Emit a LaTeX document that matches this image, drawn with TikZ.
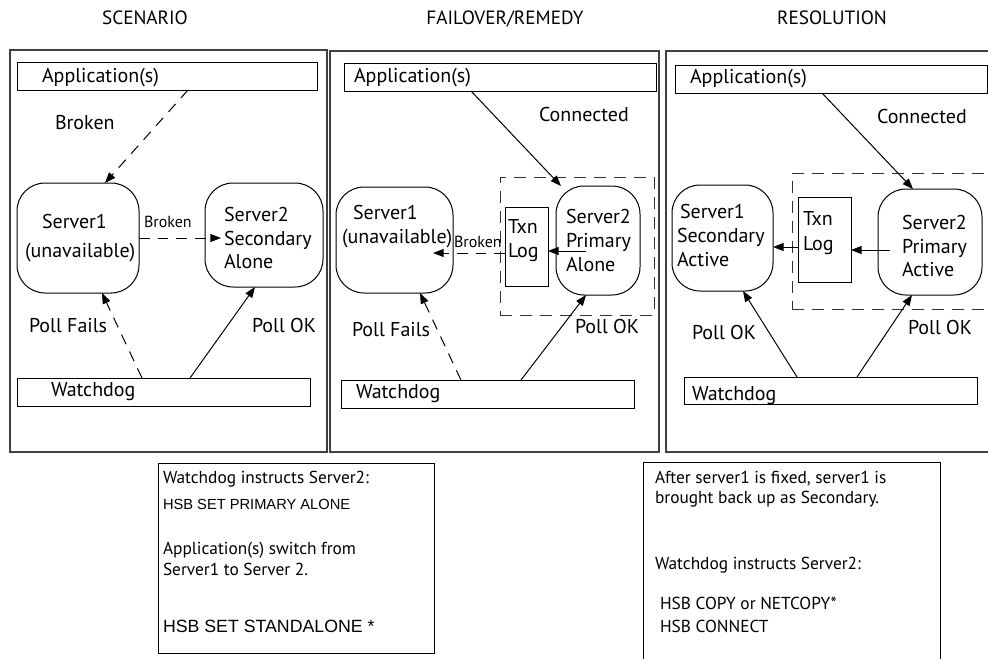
\documentclass[tikz,border=0pt]{standalone}
\usepackage{fontspec}
\setmainfont{PT Sans}
\newfontfamily\arialfont{Liberation Sans}
\usetikzlibrary{arrows.meta,fit}

\newcommand\bodyfont{\fontsize{15}{18}\selectfont}
\newcommand\notefont{\fontsize{13}{16}\selectfont}
\newcommand\smallfont{\fontsize{12}{14}\selectfont}
\newcommand\titlefont{\fontsize{14.4}{17}\selectfont}

\tikzset{
  panel/.style={draw=black!75, line width=0.8pt, inner sep=0pt, outer sep=0pt},
  box/.style={draw, line width=0.75pt, inner sep=0pt, outer sep=0pt},
  srv/.style={box, rounded corners=21pt},
  group/.style={draw=black!80, line width=0.75pt, inner sep=0pt, outer sep=0pt,
                dash pattern=on 9pt off 6pt},
  lbl/.style={anchor=base west, inner sep=0pt, outer sep=0pt, font=\bodyfont},
  note/.style={anchor=base west, inner sep=0pt, outer sep=0pt, font=\notefont},
  small/.style={anchor=base west, inner sep=0pt, outer sep=0pt, font=\smallfont},
  ttl/.style={anchor=base, inner sep=0pt, font=\titlefont},
  conn/.style={-{Triangle[length=8pt,width=6pt]}, line width=0.75pt},
  brk/.style={conn, dash pattern=on 8pt off 6pt},
}

\begin{document}
\begin{tikzpicture}[x=0.75pt, y=-0.75pt]
\useasboundingbox (0,0) rectangle (988,658);

% column headings
\node[ttl] (h1) at (145,24) {SCENARIO};
\node[ttl] (h2) at (505,24) {FAILOVER/REMEDY};
\node[ttl] (h3) at (832,24) {RESOLUTION};

% ---------------- panel 1: scenario ----------------
\node[panel, fit={(10,50)(327,452)}] (pan1) {};
\node[box, fit={(17,62)(317,90)}] (app1) {};
\node[lbl] (app1t) at (42,82) {Application(s)};
\node[lbl] (brk1t) at (55,129) {Broken};
\node[srv, fit={(17,183)(139,293)}] (sa1) {};
\node[lbl] (sa1t1) at (42,228) {Server1};
\node[lbl] (sa1t2) at (25,257) {(unavailable)};
\node[srv, fit={(205,183)(323,287)}] (sb1) {};
\node[lbl] (sb1t1) at (224,221) {Server2};
\node[lbl] (sb1t2) at (224,245) {Secondary};
\node[lbl] (sb1t3) at (224,268) {Alone};
\node[small] (lnk1t) at (144,227) {Broken};
\node[lbl] (pf1) at (29,332) {Poll Fails};
\node[lbl] (pk1) at (252,332) {Poll OK};
\node[box, fit={(17,378)(310,406)}] (wd1) {};
\node[lbl] (wd1t) at (51,396) {Watchdog};

\coordinate (x1a) at (188,0);
\coordinate (x1b) at (105,0);
\coordinate (y1c) at (0,238);
\coordinate (e1c) at (221,238);
\coordinate (x1d) at (142,0);
\coordinate (x1e) at (102,0);
\coordinate (x1f) at (190,0);
\coordinate (x1g) at (255,0);
\draw[brk] (app1.south -| x1a) -- (sa1.north -| x1b);
\draw[brk] (sa1.east |- y1c) -- (e1c);
\draw[brk] (wd1.north -| x1d) -- (sa1.south -| x1e);
\draw[conn] (wd1.north -| x1f) -- (sb1.south -| x1g);

% ---------------- panel 2: failover / remedy ----------------
\node[panel, fit={(330,51)(659,452)}] (pan2) {};
\node[box, fit={(344,63)(656,91)}] (app2) {};
\node[lbl] (app2t) at (354,82) {Application(s)};
\node[lbl] (con2t) at (539,121) {Connected};
\node[group, fit={(500,177)(654,315)}] (grp2) {};
\node[srv, fit={(336,187)(453,293)}] (sa2) {};
\node[lbl] (sa2t1) at (353,219) {Server1};
\node[lbl] (sa2t2) at (342,243) {(unavailable)};
\node[box, fit={(505,207)(548,286)}] (tx2) {};
\node[lbl] (tx2t1) at (508,233) {Txn};
\node[lbl] (tx2t2) at (508,257) {Log};
\node[srv, fit={(556,186)(640,295)}] (sb2) {};
\node[lbl] (sb2t1) at (566,223) {Server2};
\node[lbl] (sb2t2) at (566,247) {Primary};
\node[lbl] (sb2t3) at (566,271) {Alone};
\node[small] (lnk2t) at (454,247) {Broken};
\node[lbl] (pf2) at (352,336) {Poll Fails};
\node[lbl] (pk2) at (575,333) {Poll OK};
\node[box, fit={(341,380)(634,408)}] (wd2) {};
\node[lbl] (wd2t) at (356,398) {Watchdog};

\coordinate (x2a) at (471,0);
\coordinate (x2b) at (561,0);
\coordinate (s2c) at (586,251);
\coordinate (y2d) at (0,253);
\coordinate (e2d) at (433,253);
\coordinate (x2e) at (461,0);
\coordinate (x2f) at (420,0);
\coordinate (x2g) at (521,0);
\coordinate (x2h) at (586,0);
\draw[conn] (app2.south -| x2a) -- (sb2.north -| x2b);
\draw[conn] (s2c) -- (tx2.east |- s2c);
\draw[brk] (tx2.west |- y2d) -- (e2d);
\draw[brk] (wd2.north -| x2e) -- (sa2.south -| x2f);
\draw[conn] (wd2.north -| x2g) -- (sb2.south -| x2h);

% ---------------- panel 3: resolution ----------------
\node[panel, fit={(666,51)(996,452)}] (pan3) {};
\node[box, fit={(675,65)(987,93)}] (app3) {};
\node[lbl] (app3t) at (690,83) {Application(s)};
\node[lbl] (con3t) at (877,123) {Connected};
\node[group, fit={(792,173)(1000,309)}] (grp3) {};
\node[srv, fit={(672,185)(773,291)}] (sa3) {};
\node[lbl] (sa3t1) at (680,218) {Server1};
\node[lbl] (sa3t2) at (677,242) {Secondary};
\node[lbl] (sa3t3) at (677,266) {Active};
\node[box, fit={(798,197)(851,282)}] (tx3) {};
\node[lbl] (tx3t1) at (803,225) {Txn};
\node[lbl] (tx3t2) at (803,250) {Log};
\node[srv, fit={(878,189)(982,295)}] (sb3) {};
\node[lbl] (sb3t1) at (902,229) {Server2};
\node[lbl] (sb3t2) at (902,253) {Primary};
\node[lbl] (sb3t3) at (902,276) {Active};
\node[lbl] (pk3a) at (692,339) {Poll OK};
\node[lbl] (pk3b) at (908,334) {Poll OK};
\node[box, fit={(684,377)(977,404)}] (wd3) {};
\node[lbl] (wd3t) at (692,400) {Watchdog};

\coordinate (x3a) at (822,0);
\coordinate (x3b) at (913,0);
\coordinate (s3c) at (890,250);
\coordinate (y3d) at (0,247);
\coordinate (x3e) at (797,0);
\coordinate (x3f) at (743,0);
\coordinate (x3g) at (857,0);
\coordinate (x3h) at (912,0);
\draw[conn] (app3.south -| x3a) -- (sb3.north -| x3b);
\draw[conn] (s3c) -- (tx3.east |- s3c);
\draw[conn] (tx3.west |- y3d) -- (sa3.east |- y3d);
\draw[conn] (wd3.north -| x3e) -- (sa3.south -| x3f);
\draw[conn] (wd3.north -| x3g) -- (sb3.south -| x3h);

% ---------------- notes ----------------
\node[box, fit={(158,463)(434,653)}] (note1) {};
\node[note] (n1a) at (163,483) {Watchdog instructs Server2:};
\node[note, font=\arialfont\fontsize{11}{13}\selectfont] (n1b) at (163,509) {HSB SET PRIMARY ALONE};
\node[note] (n1c) at (163,554) {Application(s) switch from};
\node[note] (n1d) at (163,575) {Server1 to Server 2.};
\node[note, font=\arialfont\fontsize{13.3}{15}\selectfont] (n1e) at (163,632) {HSB SET STANDALONE *};

\node[box, fit={(643,462)(940,670)}] (note2) {};
\node[note] (n2a) at (655,483) {After server1 is fixed, server1 is};
\node[note] (n2b) at (655,503) {brought back up as Secondary.};
\node[note] (n2c) at (655,569) {Watchdog instructs Server2:};
\node[note] (n2d) at (660,609) {HSB COPY or NETCOPY*};
\node[note] (n2e) at (660,632) {HSB CONNECT};
\end{tikzpicture}
\end{document}
